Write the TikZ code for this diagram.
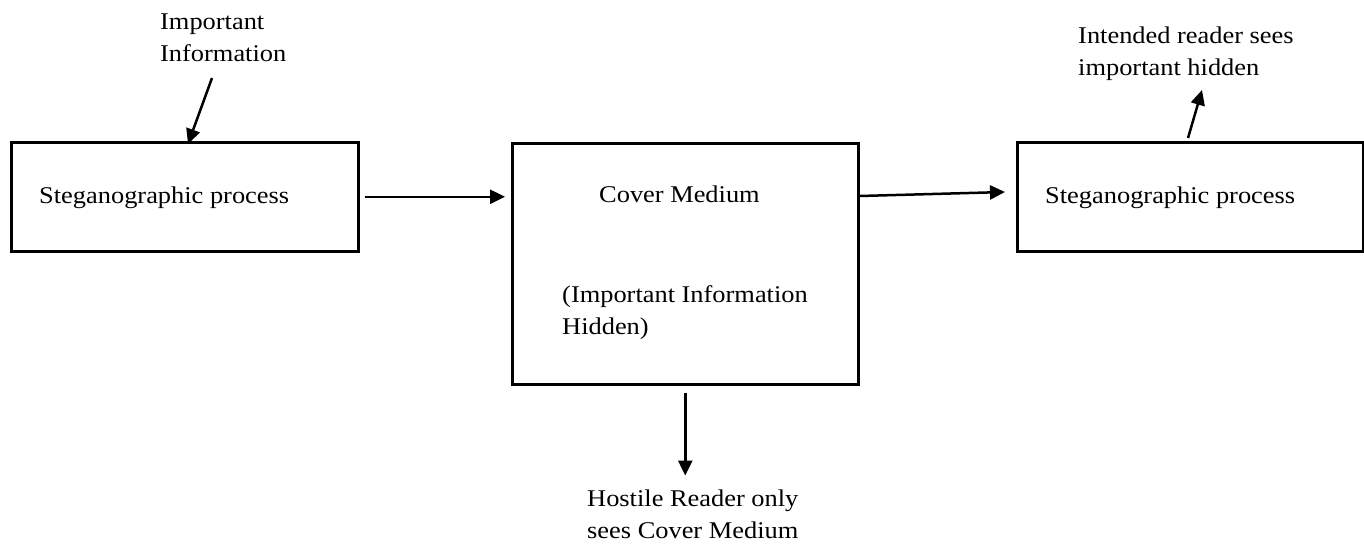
\documentclass[tikz,border=0pt]{standalone}
\usepackage{fontspec}
\setmainfont{Liberation Serif}[FakeStretch=1.1]
\usetikzlibrary{arrows.meta,calc}
\begin{document}
\begin{tikzpicture}[x=1pt,y=-1pt,
  box/.style={draw,line width=2.5pt,inner sep=0pt,anchor=north west},
  lbl/.style={inner sep=0pt,anchor=base west,align=left,font=\fontsize{24}{32}\selectfont},
  arr/.style={line width=2.5pt,-{Triangle[length=15pt,width=14pt]}}]
\useasboundingbox (0,0) rectangle (1364,550);
% boxes
\node[box,minimum width=347pt,minimum height=109pt] (b1) at (10,141) {};
\node[box,minimum width=346pt,minimum height=241pt] (b2) at (511,142) {};
\node[box,minimum width=346pt,minimum height=109pt] (b3) at (1016,141) {};
% texts (base = baseline of last line)
\node[lbl] (t1) at (39,203) {Steganographic process};
\node[lbl] (t2) at (599,202) {Cover Medium};
\node[lbl] (t3) at (562,334) {(Important Information\\Hidden)};
\node[lbl] (t4) at (1045,203) {Steganographic process};
\node[lbl] (ii) at (160,61) {Important\\Information};
\node[lbl] (ir) at (1078,75) {Intended reader sees\\important hidden};
\node[lbl] (hr) at (587,538) {Hostile Reader only\\sees Cover Medium};
% connectors
\draw[arr] ([xshift=5pt]b1.east) -- ([xshift=-6pt]b2.west |- b1.east);
\draw[arr] ([yshift=-54pt]b2.north east) -- ([xshift=-11pt,yshift=-51pt]b3.north west);
\draw[arr] ([yshift=-7pt]b2.south) -- ([yshift=-90pt]b2.south);
\draw[arr] ($(ii.base west)+(52,17)$) -- ([xshift=178pt,yshift=-3pt]b1.north west);
\draw[arr] ([xshift=172pt,yshift=3pt]b3.north west) -- ($(ir.base west)+(124,15)$);
\end{tikzpicture}
\end{document}
